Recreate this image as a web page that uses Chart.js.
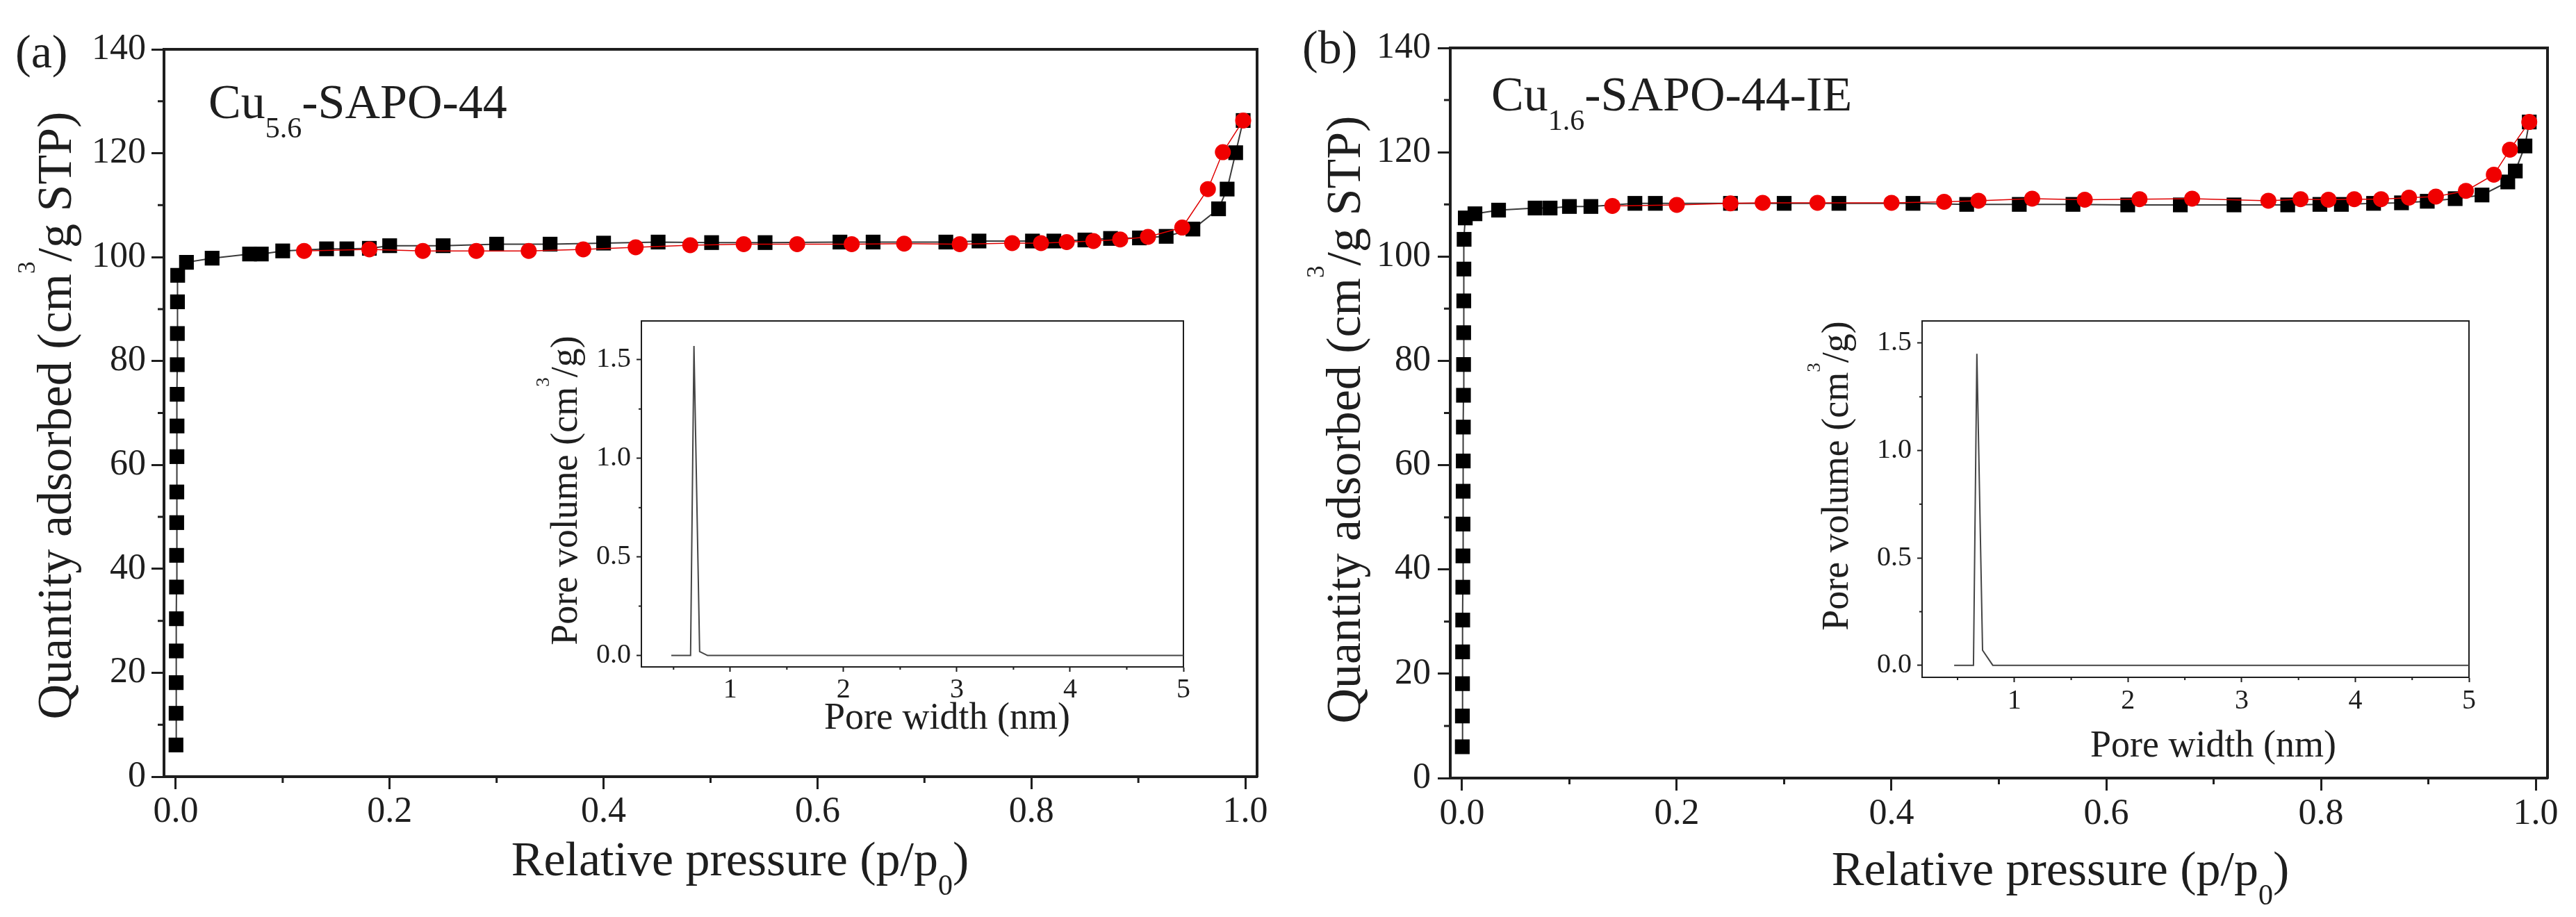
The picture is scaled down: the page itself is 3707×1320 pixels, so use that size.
<!DOCTYPE html>
<html>
<head>
<meta charset="utf-8">
<title>Cu-SAPO-44 N2 isotherms</title>
<script src="https://cdn.jsdelivr.net/npm/chart.js@4.4.1/dist/chart.umd.min.js"></script>
<style>
  body { margin: 0; background: #fff; }
  #wrap { position: relative; width: 3707px; height: 1320px; overflow: hidden; background: #fff; }
  canvas { position: absolute; }
</style>
</head>
<body>
<div id="wrap">
  <canvas id="mainA" width="1860" height="1320" style="left:0;top:0"></canvas>
  <canvas id="mainB" width="1857" height="1320" style="left:1850px;top:0"></canvas>
  <canvas id="insetA" width="1000" height="650" style="left:760px;top:430px"></canvas>
  <canvas id="insetB" width="1000" height="690" style="left:2600px;top:430px"></canvas>
</div>
<script>
// tick labels
const xTicksMain = [0, 0.2, 0.4, 0.6, 0.8, 1.0];
const xMinorMain = [0.1, 0.3, 0.5, 0.7, 0.9];
const yTicksMain = [0, 20, 40, 60, 80, 100, 120, 140];
const yMinorMain = [10, 30, 50, 70, 90, 110, 130];
const xTicksInset = [1, 2, 3, 4, 5];
const xMinorInset = [0.5, 1.5, 2.5, 3.5, 4.5];
const yTicksInset = [0, 0.5, 1.0, 1.5];
const yMinorInset = [0.25, 0.75, 1.25];

// (a) Cu5.6-SAPO-44, adsorption branch (black squares)
const adsA_p = [0.0002, 0.0003, 0.0004, 0.0005, 0.0006, 0.0007, 0.0008, 0.0009, 0.0010, 0.0011,
  0.0012, 0.0013, 0.0014, 0.0015, 0.0016, 0.0018, 0.010, 0.034, 0.069, 0.080, 0.100, 0.141,
  0.160, 0.181, 0.200, 0.250, 0.300, 0.350, 0.400, 0.451, 0.501, 0.551, 0.621, 0.652, 0.720,
  0.751, 0.801, 0.821, 0.850, 0.874, 0.901, 0.926, 0.951, 0.975, 0.983, 0.991, 0.998];
const adsA_q = [6.1, 12.2, 18.1, 24.2, 30.4, 36.5, 42.6, 48.9, 54.8, 61.6,
  67.5, 73.6, 79.3, 85.3, 91.4, 96.5, 99.0, 99.8, 100.6, 100.6, 101.2, 101.6,
  101.6, 101.7, 102.2, 102.2, 102.5, 102.5, 102.7, 102.9, 102.8, 102.8, 102.9, 102.9, 102.9,
  103.1, 103.1, 103.1, 103.3, 103.6, 103.7, 104.0, 105.4, 109.3, 113.1, 120.1, 126.3];
// (a) desorption branch (red circles)
const desA_p = [0.998, 0.979, 0.965, 0.941, 0.909, 0.883, 0.858, 0.833, 0.809, 0.782, 0.733, 0.681,
  0.632, 0.581, 0.531, 0.481, 0.430, 0.381, 0.330, 0.281, 0.231, 0.181, 0.120];
const desA_q = [126.3, 120.2, 113.1, 105.7, 103.9, 103.4, 103.1, 102.9, 102.7, 102.7, 102.5, 102.6,
  102.5, 102.5, 102.5, 102.3, 101.9, 101.5, 101.2, 101.2, 101.2, 101.5, 101.2];

// (b) Cu1.6-SAPO-44-IE
const adsB_p = [0.0002, 0.0003, 0.0004, 0.0005, 0.0006, 0.0007, 0.0008, 0.0009, 0.0010, 0.0011,
  0.0012, 0.0013, 0.0014, 0.0015, 0.0016, 0.0017, 0.0019, 0.003, 0.012, 0.034, 0.068, 0.082,
  0.100, 0.120, 0.161, 0.180, 0.250, 0.300, 0.351, 0.420, 0.470, 0.519, 0.569, 0.620, 0.669,
  0.719, 0.769, 0.799, 0.819, 0.849, 0.875, 0.899, 0.925, 0.950, 0.974, 0.981, 0.990, 0.994];
const adsB_q = [6.0, 11.9, 18.1, 24.2, 30.3, 36.6, 42.6, 48.7, 55.0, 60.8,
  67.3, 73.4, 79.3, 85.4, 91.5, 97.6, 103.3, 107.4, 108.2, 108.9, 109.3, 109.3,
  109.6, 109.6, 110.2, 110.2, 110.2, 110.2, 110.2, 110.2, 110.0, 110.0, 110.0, 109.9, 109.9,
  109.9, 109.9, 110.0, 110.0, 110.2, 110.3, 110.6, 111.1, 111.8, 114.3, 116.4, 121.2, 125.8];
const desB_p = [0.994, 0.976, 0.961, 0.935, 0.907, 0.882, 0.856, 0.831, 0.807, 0.781, 0.751, 0.680,
  0.631, 0.580, 0.531, 0.481, 0.449, 0.400, 0.331, 0.280, 0.250, 0.200, 0.140];
const desB_q = [125.8, 120.5, 115.7, 112.6, 111.5, 111.3, 111.0, 111.0, 110.9, 111.0, 110.7, 111.1,
  111.0, 110.9, 111.1, 110.7, 110.5, 110.3, 110.3, 110.3, 110.2, 109.9, 109.7];

// insets: pore size distribution
const poreA_w = [0.48, 0.65, 0.68, 0.73, 0.80, 5.0];
const poreA_v = [0, 0, 1.57, 0.02, 0, 0];
const poreB_w = [0.47, 0.64, 0.67, 0.72, 0.81, 5.0];
const poreB_v = [0, 0, 1.45, 0.07, 0, 0];

const INK = '#1e1e1e';
const FONT = '"Liberation Serif", "Times New Roman", serif';
Chart.defaults.font.family = FONT;
Chart.defaults.color = INK;

const pairs = (xs, ys) => xs.map((x, i) => ({ x: x, y: ys[i] }));
const fixTicks = vals => s => { s.ticks = vals.map(v => ({ value: v })); };

// text with sub/superscripts
const richText = {
  id: 'richText',
  afterDraw(chart, args, opts) {
    const ctx = chart.ctx;
    (opts.items || []).forEach(item => {
      const s = item.size;
      const segs = item.parts.map(p => {
        const fs = p.sub ? s * 0.6 : p.sup ? s * 0.5 : s;
        const dy = p.sub ? s * 0.4 : p.sup ? -s * 0.74 : 0;
        const font = fs + 'px ' + FONT;
        ctx.font = font;
        return { t: p.t, font: font, dy: dy, w: ctx.measureText(p.t).width };
      });
      const total = segs.reduce((a, g) => a + g.w, 0);
      ctx.save();
      ctx.translate(item.x, item.y);
      if (item.rotate) ctx.rotate(-Math.PI / 2);
      ctx.fillStyle = INK;
      ctx.textBaseline = 'alphabetic';
      ctx.textAlign = 'left';
      let x = item.align === 'center' ? -total / 2 : 0;
      segs.forEach(g => { ctx.font = g.font; ctx.fillText(g.t, x, g.dy); x += g.w; });
      ctx.restore();
    });
  }
};

// short unlabeled ticks between the major ones
const minorTicks = {
  id: 'minorTicks',
  afterDraw(chart, args, opts) {
    const ctx = chart.ctx;
    const xs = chart.scales.x, ys = chart.scales.y;
    ctx.save();
    ctx.strokeStyle = INK;
    ctx.lineWidth = opts.width;
    ctx.beginPath();
    opts.x.forEach(v => {
      const p = xs.getPixelForValue(v);
      ctx.moveTo(p, xs.top); ctx.lineTo(p, xs.top + opts.len);
    });
    opts.y.forEach(v => {
      const p = ys.getPixelForValue(v);
      ctx.moveTo(ys.right, p); ctx.lineTo(ys.right - opts.len, p);
    });
    ctx.stroke();
    ctx.restore();
  }
};

function axis(extra, st) {
  return Object.assign({
    type: 'linear',
    grid: { display: true, drawOnChartArea: false, drawTicks: true, tickLength: st.tick, tickWidth: st.tickW, tickColor: INK },
    border: { display: true, width: st.border, color: INK }
  }, extra);
}

function frame(pos, min, max, w) {
  return {
    type: 'linear', position: pos, min: min, max: max, display: true,
    grid: { display: false }, ticks: { display: false },
    border: { display: true, width: w, color: INK }
  };
}

function isotherm(id, ads, des, box, texts) {
  const st = { tick: 18, tickW: 3, border: 4 };
  new Chart(document.getElementById(id), {
    type: 'line',
    data: {
      datasets: [
        { label: 'Adsorption', data: ads, order: 2, borderColor: '#3a3a3a', borderWidth: 2,
          pointStyle: 'rect', pointRadius: 15, pointBorderWidth: 0,
          pointBackgroundColor: '#000', pointBorderColor: '#000', tension: 0 },
        { label: 'Desorption', data: des, order: 1, borderColor: '#e00000', borderWidth: 1.5,
          pointStyle: 'circle', pointRadius: 11.5, pointBorderWidth: 0,
          pointBackgroundColor: '#f00000', pointBorderColor: '#f00000', tension: 0 }
      ]
    },
    options: {
      responsive: false, animation: false, devicePixelRatio: 1,
      layout: { autoPadding: false, padding: { left: 0, top: box.top, right: box.right, bottom: 0 } },
      plugins: {
        legend: { display: false }, tooltip: { enabled: false },
        richText: { items: texts },
        minorTicks: { x: xMinorMain, y: yMinorMain, len: 9, width: 3 }
      },
      scales: {
        x: axis({
          position: 'bottom', min: -0.011, max: 1.011,
          afterBuildTicks: fixTicks(xTicksMain),
          afterFit: s => { s.height = box.xH; },
          ticks: { font: { size: 52 }, color: INK, padding: box.xPad, maxRotation: 0, autoSkip: false,
                   callback: v => v.toFixed(1) }
        }, st),
        y: axis({
          position: 'left', min: 0, max: 140,
          afterBuildTicks: fixTicks(yTicksMain),
          afterFit: s => { s.width = box.yW; },
          ticks: { font: { size: 52 }, color: INK, padding: box.yPad, autoSkip: false,
                   callback: v => String(v) }
        }, st),
        x2: frame('top', -0.011, 1.011, 4),
        y2: frame('right', 0, 140, 4)
      }
    },
    plugins: [richText, minorTicks]
  });
}

function poreChart(id, pts, box, texts) {
  const st = { tick: 7, tickW: 2, border: 2 };
  new Chart(document.getElementById(id), {
    type: 'line',
    data: {
      datasets: [{ label: 'PSD', data: pts, borderColor: '#444', borderWidth: 2, pointRadius: 0, tension: 0 }]
    },
    options: {
      responsive: false, animation: false, devicePixelRatio: 1,
      layout: { autoPadding: false, padding: { left: 0, top: box.top, right: box.right, bottom: 0 } },
      plugins: {
        legend: { display: false }, tooltip: { enabled: false },
        richText: { items: texts },
        minorTicks: { x: xMinorInset, y: yMinorInset, len: 4, width: 2 }
      },
      scales: {
        x: axis({
          position: 'bottom', min: box.xMin, max: 5.0,
          afterBuildTicks: fixTicks(xTicksInset),
          afterFit: s => { s.height = box.xH; },
          ticks: { font: { size: 40 }, color: INK, padding: box.xPad, maxRotation: 0, autoSkip: false,
                   callback: v => String(v) }
        }, st),
        y: axis({
          position: 'left', min: box.yMin, max: box.yMax,
          afterBuildTicks: fixTicks(yTicksInset),
          afterFit: s => { s.width = box.yW; },
          ticks: { font: { size: 40 }, color: INK, padding: 8, autoSkip: false,
                   callback: v => v.toFixed(1) }
        }, st),
        x2: frame('top', box.xMin, 5.0, 2),
        y2: frame('right', box.yMin, box.yMax, 2)
      }
    },
    plugins: [richText, minorTicks]
  });
}

const yTitle = [{ t: 'Quantity adsorbed (cm' }, { t: '3', sup: 1 }, { t: '/g STP)' }];
const xTitle = [{ t: 'Relative pressure (p/p' }, { t: '0', sub: 1 }, { t: ')' }];
const poreY = [{ t: 'Pore volume (cm' }, { t: '3', sup: 1 }, { t: '/g)' }];
const poreX = [{ t: 'Pore width (nm)' }];

isotherm('mainA', pairs(adsA_p, adsA_q), pairs(desA_p, desA_q),
  { top: 63, right: 43, xH: 202, yW: 236, xPad: 2, yPad: 8 },
  [
    { x: 22, y: 97, size: 68, parts: [{ t: '(a)' }] },
    { x: 300, y: 170, size: 70, parts: [{ t: 'Cu' }, { t: '5.6', sub: 1 }, { t: '-SAPO-44' }] },
    { x: 102, y: 598, size: 70, rotate: true, align: 'center', parts: yTitle },
    { x: 1065, y: 1260, size: 70, align: 'center', parts: xTitle }
  ]);

isotherm('mainB', pairs(adsB_p, adsB_q), pairs(desB_p, desB_q),
  { top: 61, right: 33, xH: 200, yW: 237, xPad: 3, yPad: 10 },
  [
    { x: 24, y: 91, size: 68, parts: [{ t: '(b)' }] },
    { x: 296, y: 159, size: 70, parts: [{ t: 'Cu' }, { t: '1.6', sub: 1 }, { t: '-SAPO-44-IE' }] },
    { x: 107, y: 604, size: 70, rotate: true, align: 'center', parts: yTitle },
    { x: 1115, y: 1274, size: 70, align: 'center', parts: xTitle }
  ]);

poreChart('insetA', pairs(poreA_w, poreA_v),
  { top: 14, right: 49, xH: 120, yW: 163, xPad: 2, xMin: 0.216, yMin: -0.058, yMax: 1.697 },
  [
    { x: 70, y: 276, size: 54, rotate: true, align: 'center', parts: poreY },
    { x: 603, y: 619, size: 54, align: 'center', parts: poreX }
  ]);

poreChart('insetB', pairs(poreB_w, poreB_v),
  { top: 14, right: 39, xH: 145, yW: 166, xPad: 3, xMin: 0.188, yMin: -0.056, yMax: 1.603 },
  [
    { x: 59, y: 255, size: 54, rotate: true, align: 'center', parts: poreY },
    { x: 585, y: 659, size: 54, align: 'center', parts: poreX }
  ]);
</script>
</body>
</html>
